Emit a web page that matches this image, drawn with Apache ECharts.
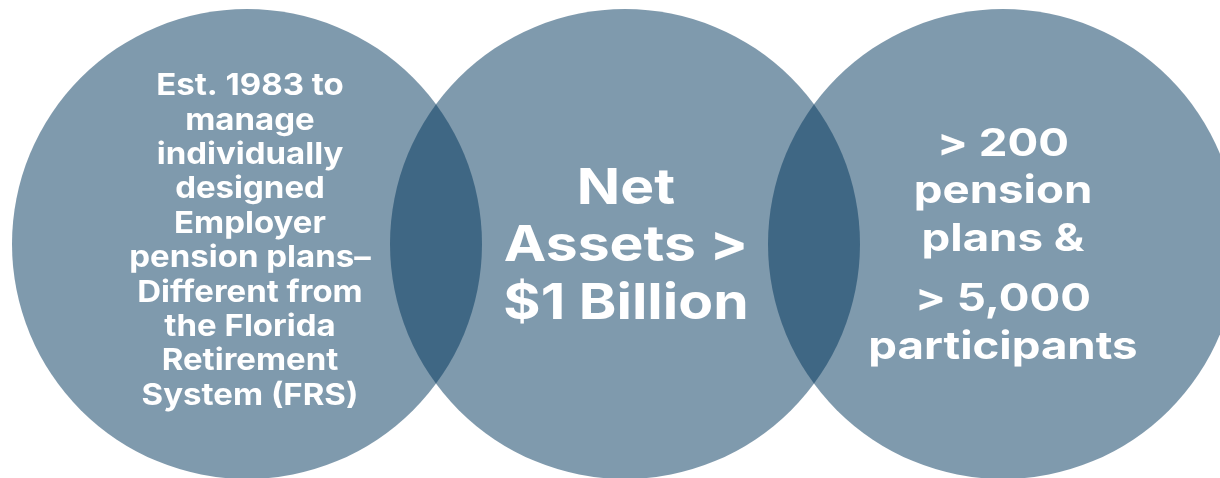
<!DOCTYPE html>
<html>
<head>
<meta charset="utf-8">
<script src="https://cdn.jsdelivr.net/npm/echarts@6/dist/echarts.min.js"></script>
<style>
html,body{margin:0;padding:0;background:#fff;}
#chart{width:1220px;height:478px;}
</style>
</head>
<body>
<div id="chart"></div>
<script>
// Data: three overlapping circles (Venn), in data units of a 1220 x 478 plane
const circleNames = ['History', 'Assets', 'Plans'];
const centerX = [247, 625, 1003];
const centerY = [244, 244, 244];
const radius = [235, 235, 235];
const circleTexts = [
  [['Est. 1983 to', 'manage', 'individually', 'designed', 'Employer', 'pension plans\u2013', 'Different from', 'the Florida', 'Retirement', 'System (FRS)']],
  [['Net', 'Assets >', '$1 Billion']],
  [['> 200', 'pension', 'plans &'], ['> 5,000', 'participants']]
];

// Styles
const textStyles = [
  { fontSize: 30, lineHeight: 34.4, paraGap: 0, dy: -3, cx: 3, stretch: 1.10 },
  { fontSize: 50, lineHeight: 57.5, paraGap: 0, dy: 2, cx: 1, stretch: 1.14 },
  { fontSize: 38, lineHeight: 47.5, paraGap: 13, dy: 2, cx: 0, stretch: 1.20 }
];
const FONT = 'Inter, "DejaVu Sans", sans-serif';

const chart = echarts.init(document.getElementById('chart'), null, { renderer: 'canvas' });

const data = circleNames.map((n, i) => [centerX[i], centerY[i], radius[i], i]);

chart.setOption({
  animation: false,
  grid: { left: 0, right: 0, top: 0, bottom: 0 },
  xAxis: { type: 'value', min: 0, max: 1220, show: false },
  yAxis: { type: 'value', min: 0, max: 478, inverse: true, show: false },
  series: [
    {
      type: 'custom',
      name: 'circles',
      data: data,
      renderItem: function (params, api) {
        const c = api.coord([api.value(0), api.value(1)]);
        const r = api.size([api.value(2), 0])[0];
        return {
          type: 'circle',
          shape: { cx: c[0], cy: c[1], r: r },
          style: { fill: 'rgba(0,53,91,0.5)' }
        };
      },
      z: 1
    },
    {
      type: 'custom',
      name: 'texts',
      data: data,
      renderItem: function (params, api) {
        const i = api.value(3);
        const c = api.coord([api.value(0), api.value(1)]);
        const st = textStyles[i];
        const paras = circleTexts[i];
        let nLines = 0;
        paras.forEach(p => nLines += p.length);
        const total = nLines * st.lineHeight + (paras.length - 1) * st.paraGap;
        let y = c[1] + st.dy - total / 2 + st.lineHeight / 2;
        const children = [];
        paras.forEach((p, pi) => {
          p.forEach(line => {
            children.push({
              type: 'text',
              x: c[0] + st.cx,
              y: y,
              scaleX: st.stretch,
              style: {
                text: line,
                x: 0,
                y: 0,
                fill: '#ffffff',
                font: '700 ' + st.fontSize + 'px ' + FONT,
                align: 'center',
                verticalAlign: 'middle'
              }
            });
            y += st.lineHeight;
          });
          y += st.paraGap;
        });
        return { type: 'group', children: children };
      },
      z: 2
    }
  ]
});
</script>
</body>
</html>
